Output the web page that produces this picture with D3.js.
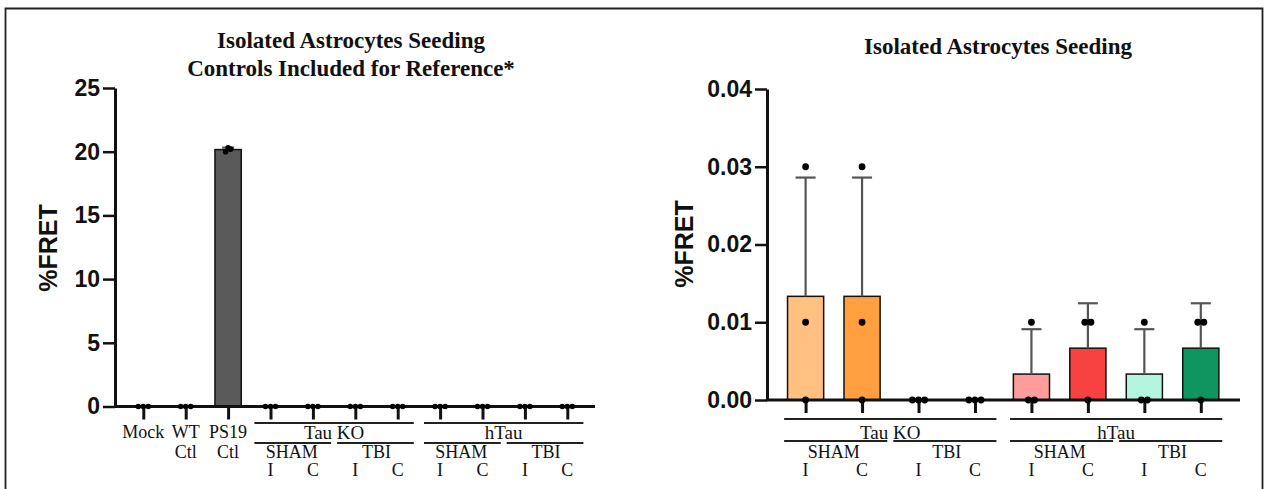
<!DOCTYPE html>
<html>
<head>
<meta charset="utf-8">
<script src="https://cdn.jsdelivr.net/npm/d3@7"></script>
<style>
  body { margin: 0; background: #fff; }
  svg { display: block; }
</style>
</head>
<body>
<div id="grafico"></div>
<script>
// Tamaño de la ventana
const w = 1270;
const h = 489;

// Datos del panel izquierdo (con controles)
const leftCategories = ['Mock', 'WT Ctl', 'PS19 Ctl',
  'KO SHAM I', 'KO SHAM C', 'KO TBI I', 'KO TBI C',
  'hTau SHAM I', 'hTau SHAM C', 'hTau TBI I', 'hTau TBI C'];
const leftValues = [
  [0, 0, 0], [0, 0, 0], [20.0, 20.3, 20.2],
  [0, 0, 0], [0, 0, 0], [0, 0, 0], [0, 0, 0],
  [0, 0, 0], [0, 0, 0], [0, 0, 0], [0, 0, 0]
];
const leftColors = ['#5a5a5a', '#5a5a5a', '#5a5a5a',
  '#ffc080', '#ff9f40', '#cccccc', '#999999',
  '#ff9c9c', '#f84242', '#b3f5df', '#0f9660'];
const leftTicks = [0, 5, 10, 15, 20, 25];
const controlLabels = [['Mock'], ['WT', 'Ctl'], ['PS19', 'Ctl']];

// Datos del panel derecho
const rightCategories = ['KO SHAM I', 'KO SHAM C', 'KO TBI I', 'KO TBI C',
  'hTau SHAM I', 'hTau SHAM C', 'hTau TBI I', 'hTau TBI C'];
const rightValues = [
  [0.03, 0.01, 0], [0.03, 0.01, 0], [0, 0, 0], [0, 0, 0],
  [0.01, 0, 0], [0.01, 0.01, 0], [0.01, 0, 0], [0.01, 0.01, 0]
];
const rightColors = ['#ffc080', '#ff9f40', '#cccccc', '#999999',
  '#ff9c9c', '#f84242', '#b3f5df', '#0f9660'];
const rightTicks = [0, 0.01, 0.02, 0.03, 0.04];

// Etiquetas jerarquicas del eje X
const groupLabels = ['Tau KO', 'hTau'];
const subLabels = ['SHAM', 'TBI'];
const leafLabels = ['I', 'C'];

const serif = '"Liberation Serif", "Times New Roman", serif';
const sans = '"Liberation Sans", Arial, sans-serif';

const svg = d3.select('#grafico')
  .append('svg')
  .attr('width', w)
  .attr('height', h);

svg.append('rect').attr('width', w).attr('height', h).attr('fill', '#fff');

// Marco exterior
svg.append('path')
  .attr('d', 'M5.5,' + (h + 5) + 'V8.5H1262.5V' + (h + 5))
  .attr('fill', 'none')
  .attr('stroke', '#222')
  .attr('stroke-width', 1.8);

function mean(v) { return d3.mean(v); }
function sd(v) { return d3.deviation(v) || 0; }

// Dibuja un panel completo
function drawPanel(cfg) {
  const x = d3.scalePoint().domain(cfg.categories).range(cfg.xRange);
  const y = d3.scaleLinear().domain(cfg.yDomain).range(cfg.yRange);
  const step = x.step();
  const bw = step * cfg.barFrac;
  const y0 = y(0);

  const data = cfg.categories.map((c, i) => ({
    c: c, v: cfg.values[i], m: mean(cfg.values[i]), s: sd(cfg.values[i]), color: cfg.colors[i]
  }));

  // Barras
  svg.append('g').selectAll('rect')
    .data(data.filter(d => d.m > 0))
    .join('rect')
    .attr('x', d => x(d.c) - bw / 2)
    .attr('y', d => y(d.m))
    .attr('width', bw)
    .attr('height', d => y0 - y(d.m))
    .attr('fill', d => d.color)
    .attr('stroke', '#111')
    .attr('stroke-width', 1.5);

  // Barras de error (solo hacia arriba)
  const eb = svg.append('g')
    .attr('stroke', '#555')
    .attr('stroke-width', 2.2)
    .attr('fill', 'none');
  data.filter(d => d.s > 0).forEach(d => {
    const top = y(d.m + d.s);
    eb.append('line').attr('x1', x(d.c)).attr('x2', x(d.c)).attr('y1', y(d.m)).attr('y2', top);
    eb.append('line').attr('x1', x(d.c) - cfg.cap).attr('x2', x(d.c) + cfg.cap).attr('y1', top).attr('y2', top);
  });

  // Eje Y
  const ya = svg.append('g')
    .attr('transform', 'translate(' + cfg.axisX + ',0)')
    .call(d3.axisLeft(y).tickValues(cfg.ticks).tickSize(12).tickSizeOuter(0)
      .tickPadding(3).tickFormat(cfg.fmt));
  ya.select('.domain').attr('stroke-width', 3).attr('stroke', '#111');
  ya.selectAll('.tick line').attr('stroke-width', 2.5).attr('stroke', '#111');
  ya.selectAll('.tick text')
    .style('font-family', sans)
    .style('font-weight', 'bold')
    .style('font-size', '23px')
    .attr('fill', '#111');

  // Marcas del eje X
  const xa = svg.append('g')
    .attr('transform', 'translate(0,' + y0 + ')')
    .call(d3.axisBottom(x).tickSize(13).tickFormat(''));
  xa.select('.domain').remove();
  xa.selectAll('.tick line').attr('stroke-width', 3).attr('stroke', '#111');

  // Linea del eje X
  svg.append('line')
    .attr('x1', cfg.axisX - 1).attr('x2', cfg.axisEnd)
    .attr('y1', y0).attr('y2', y0)
    .attr('stroke', '#111').attr('stroke-width', 3);

  // Puntos individuales, separados cuando coinciden
  const dots = [];
  data.forEach(d => {
    const rows = d3.group(d.v, v => Math.round(y(v) / (cfg.r * 2)));
    rows.forEach(vals => {
      vals.forEach((v, k) => {
        dots.push({ cx: x(d.c) + (k - (vals.length - 1) / 2) * cfg.r * 1.8, cy: y(v) });
      });
    });
  });
  svg.append('g').selectAll('circle')
    .data(dots)
    .join('circle')
    .attr('cx', d => d.cx)
    .attr('cy', d => d.cy)
    .attr('r', cfg.r)
    .attr('fill', '#000');

  // Etiquetas jerarquicas
  const lab = svg.append('g')
    .style('font-family', serif)
    .attr('fill', '#111')
    .attr('text-anchor', 'middle');
  const lines = svg.append('g').attr('stroke', '#222').attr('stroke-width', 2);
  const pad = step * 0.38;
  const first = cfg.firstGrouped;

  cfg.categories.slice(0, first).forEach((c, i) => {
    controlLabels[i].forEach((t, k) => {
      lab.append('text').attr('x', x(c)).attr('y', 438 + k * 20)
        .style('font-size', '18px').text(t);
    });
  });

  groupLabels.forEach((g, gi) => {
    const cats = cfg.categories.slice(first + gi * 4, first + gi * 4 + 4);
    const gx0 = x(cats[0]) - pad;
    const gx1 = x(cats[3]) + pad;
    lines.append('line').attr('x1', gx0).attr('x2', gx1).attr('y1', cfg.line1).attr('y2', cfg.line1);
    lab.append('text').attr('x', (gx0 + gx1) / 2).attr('y', 439)
      .style('font-size', '19px').text(g);

    subLabels.forEach((s, si) => {
      const a = cats[si * 2], b = cats[si * 2 + 1];
      const mid = (x(cats[1]) + x(cats[2])) / 2;
      const sx0 = si === 0 ? gx0 : mid + 3;
      const sx1 = si === 0 ? mid - 3 : gx1;
      lines.append('line').attr('x1', sx0).attr('x2', sx1).attr('y1', cfg.line2).attr('y2', cfg.line2);
      lab.append('text').attr('x', (x(a) + x(b)) / 2).attr('y', 458)
        .style('font-size', '18px').text(s);
      [a, b].forEach((c, li) => {
        lab.append('text').attr('x', x(c)).attr('y', 476)
          .style('font-size', '18px').text(leafLabels[li]);
      });
    });
  });

  // Titulo del eje Y
  svg.append('text')
    .attr('transform', 'translate(' + cfg.yLabelX + ',' + cfg.yLabelY + ')rotate(-90)')
    .attr('text-anchor', 'middle')
    .style('font-family', sans)
    .style('font-weight', 'bold')
    .style('font-size', '25px')
    .attr('fill', '#111')
    .text('%FRET');

  // Titulo del grafico
  cfg.title.forEach((t, k) => {
    svg.append('text')
      .attr('x', cfg.titleX)
      .attr('y', cfg.titleY + k * 28)
      .attr('text-anchor', 'middle')
      .style('font-family', serif)
      .style('font-weight', 'bold')
      .style('font-size', '23px')
      .attr('fill', '#111')
      .text(t);
  });
}

drawPanel({
  categories: leftCategories, values: leftValues, colors: leftColors, ticks: leftTicks,
  xRange: [143.3, 567.3], yDomain: [0, 25], yRange: [406.5, 88],
  axisX: 115, axisEnd: 595, barFrac: 0.62, cap: 6, r: 2.8,
  fmt: d3.format('d'), firstGrouped: 3, line1: 423, line2: 443,
  yLabelX: 57, yLabelY: 248,
  title: ['Isolated Astrocytes Seeding', 'Controls Included for Reference*'],
  titleX: 351, titleY: 48
});

drawPanel({
  categories: rightCategories, values: rightValues, colors: rightColors, ticks: rightTicks,
  xRange: [805.6, 1200.8], yDomain: [0, 0.04], yRange: [400, 89],
  axisX: 767, axisEnd: 1240, barFrac: 0.64, cap: 10, r: 3.4,
  fmt: d3.format('.2f'), firstGrouped: 0, line1: 419, line2: 441,
  yLabelX: 693, yLabelY: 244,
  title: ['Isolated Astrocytes Seeding'],
  titleX: 998, titleY: 54
});
</script>
</body>
</html>
